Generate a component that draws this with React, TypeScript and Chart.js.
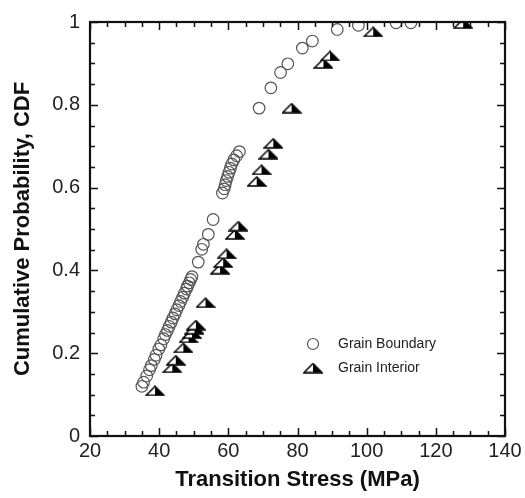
import React, { useEffect, useRef } from "react";
import { Chart, registerables } from "chart.js";
Chart.register(...registerables);

const seriesNames = ["Grain Boundary", "Grain Interior"];
const xTitle = "Transition Stress (MPa)";
const yTitle = "Cumulative Probability, CDF";

const gbStress = [
  35.0, 35.5, 36.4, 37.2, 37.7, 38.6, 39.1, 39.9, 40.5, 41.3, 41.8, 42.4, 42.9,
  43.5, 44.0, 44.6, 45.1, 45.7, 46.2, 46.8, 47.3, 47.9, 48.2, 48.7, 49.1, 49.5,
  51.3, 52.3, 52.8, 54.2, 55.6, 58.3, 58.8, 59.1, 59.4, 59.8, 60.2, 60.6, 61.0,
  61.6, 62.4, 63.2, 68.9, 72.3, 75.1, 77.2, 81.4, 84.3, 91.5, 97.6, 108.5, 112.8,
];
const gbCdf = [
  0.12, 0.13, 0.145, 0.16, 0.17, 0.185, 0.195, 0.21, 0.22, 0.235, 0.245, 0.255,
  0.265, 0.275, 0.285, 0.295, 0.305, 0.315, 0.325, 0.335, 0.345, 0.355, 0.362,
  0.37, 0.378, 0.385, 0.42, 0.451, 0.463, 0.487, 0.523, 0.587, 0.597, 0.607,
  0.617, 0.627, 0.637, 0.647, 0.657, 0.667, 0.677, 0.687, 0.792, 0.841, 0.878,
  0.899, 0.937, 0.954, 0.982, 0.992, 0.998, 0.998,
];
const giStress = [
  38.8, 43.8, 44.8, 47.0, 48.5, 49.5, 50.2, 50.6, 53.4, 57.6, 58.5, 59.5, 61.9,
  62.9, 68.2, 69.6, 71.6, 73.0, 78.3, 87.5, 89.4, 101.9, 127.9,
];
const giCdf = [
  0.109, 0.165, 0.183, 0.213, 0.237, 0.247, 0.258, 0.268, 0.322, 0.403, 0.419,
  0.44, 0.487, 0.507, 0.615, 0.643, 0.681, 0.707, 0.792, 0.9, 0.918, 0.976,
  0.996,
];
const xMin = 20, xMax = 140, xStep = 20, xMinorStep = 5;
const yMin = 0, yMax = 1, yStep = 0.2, yMinorStep = 0.05;

const FONT = "'Liberation Sans', Arial, Helvetica, sans-serif";

function makeTriangle(): HTMLCanvasElement {
  const c = document.createElement("canvas");
  const w = 20, h = 11;
  c.width = w;
  c.height = h;
  const g = c.getContext("2d")!;
  const l = 1, r = w - 1, t = 1, b = h - 1, m = w / 2;
  g.fillStyle = "#fff";
  g.beginPath(); g.moveTo(m, t); g.lineTo(l, b); g.lineTo(m, b); g.closePath(); g.fill();
  g.fillStyle = "#000";
  g.beginPath(); g.moveTo(m, t); g.lineTo(r, b); g.lineTo(m, b); g.closePath(); g.fill();
  g.strokeStyle = "#000";
  g.lineWidth = 1.5;
  g.beginPath(); g.moveTo(m, t); g.lineTo(r, b); g.lineTo(l, b); g.closePath(); g.stroke();
  return c;
}

export default function App() {
  const ref = useRef<HTMLCanvasElement | null>(null);
  useEffect(() => {
    document.body.style.margin = "0";
    const tri = makeTriangle();
    const framePlugin = {
      id: "frame",
      afterDatasetsDraw(chart: any) {
        const { ctx, chartArea: a, scales } = chart;
        const xs = scales.x, ys = scales.y;
        ctx.save();
        ctx.strokeStyle = "#111";
        ctx.lineWidth = 1.5;
        const nx = Math.round((xMax - xMin) / xMinorStep);
        for (let i = 0; i <= nx; i++) {
          const v = xMin + i * xMinorStep;
          const px = Math.round(xs.getPixelForValue(v)) + 0.5;
          const len = Math.abs(v % xStep) < 1e-9 ? 8 : 5;
          ctx.beginPath();
          ctx.moveTo(px, a.bottom); ctx.lineTo(px, a.bottom - len);
          ctx.moveTo(px, a.top); ctx.lineTo(px, a.top + len);
          ctx.stroke();
        }
        const ny = Math.round((yMax - yMin) / yMinorStep);
        for (let i = 0; i <= ny; i++) {
          const v = yMin + i * yMinorStep;
          const py = Math.round(ys.getPixelForValue(v)) + 0.5;
          const len = i % Math.round(yStep / yMinorStep) === 0 ? 8 : 5;
          ctx.beginPath();
          ctx.moveTo(a.left, py); ctx.lineTo(a.left + len, py);
          ctx.moveTo(a.right, py); ctx.lineTo(a.right - len, py);
          ctx.stroke();
        }
        ctx.lineWidth = 2.2;
        ctx.strokeStyle = "#111";
        ctx.strokeRect(a.left, a.top, a.right - a.left, a.bottom - a.top);

        // legend
        const lx = a.left + 223;
        const ly1 = a.top + 322;
        const ly2 = ly1 + 24;
        ctx.lineWidth = 1.2;
        ctx.strokeStyle = "#555";
        ctx.beginPath();
        ctx.arc(lx, ly1, 5.5, 0, Math.PI * 2);
        ctx.stroke();
        ctx.drawImage(tri, lx - tri.width / 2, ly2 - tri.height / 2);
        ctx.fillStyle = "#222";
        ctx.font = `14px ${FONT}`;
        ctx.textBaseline = "middle";
        ctx.textAlign = "left";
        ctx.fillText(seriesNames[0], lx + 25, ly1);
        ctx.fillText(seriesNames[1], lx + 25, ly2);
        ctx.restore();
      },
    };

    const chart = new Chart(ref.current!, {
      type: "scatter",
      data: {
        datasets: [
          {
            label: seriesNames[1],
            data: giStress.map((x, i) => ({ x, y: giCdf[i] })),
            pointStyle: tri as any,
            pointRadius: 6,
          },
          {
            label: seriesNames[0],
            data: gbStress.map((x, i) => ({ x, y: gbCdf[i] })),
            pointStyle: "circle",
            pointRadius: 5.8,
            borderColor: "#555",
            borderWidth: 1.2,
            backgroundColor: "rgba(255,255,255,0)",
          },
        ],
      },
      options: {
        responsive: false,
        animation: false,
        devicePixelRatio: 1,
        layout: { padding: { top: 20, right: 20, left: 0, bottom: 0 } },
        plugins: { legend: { display: false }, tooltip: { enabled: false } },
        scales: {
          x: {
            type: "linear",
            min: xMin,
            max: xMax,
            grid: { display: false, drawTicks: false },
            border: { display: false },
            ticks: {
              stepSize: xStep,
              padding: 3,
              color: "#222",
              font: { size: 20, family: FONT },
              maxRotation: 0,
            },
            title: {
              display: true,
              text: xTitle,
              color: "#111",
              font: { size: 22, weight: "bold", family: FONT },
              padding: { top: 0, bottom: 5 },
            },
            afterFit: (s: any) => { s.height = 62; },
          },
          y: {
            type: "linear",
            min: yMin,
            max: yMax,
            grid: { display: false, drawTicks: false },
            border: { display: false },
            ticks: {
              stepSize: yStep,
              padding: 10,
              color: "#222",
              font: { size: 20, family: FONT },
              callback: (v: any) => String(Number(Number(v).toFixed(1))),
            },
            title: {
              display: true,
              text: yTitle,
              color: "#111",
              font: { size: 22, weight: "bold", family: FONT },
              padding: { top: 10, bottom: 0 },
            },
            afterFit: (s: any) => { s.width = 90; },
          },
        },
      },
      plugins: [framePlugin],
    } as any);
    return () => chart.destroy();
  }, []);
  return (
    <div style={{ position: "absolute", left: 0, top: 0, width: 525, height: 498, background: "#fff" }}>
      <canvas ref={ref} width={525} height={498} style={{ display: "block" }} />
    </div>
  );
}
